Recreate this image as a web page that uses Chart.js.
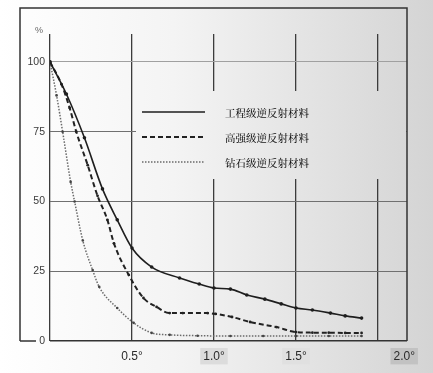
<!DOCTYPE html>
<html><head><meta charset="utf-8">
<script src="https://cdn.jsdelivr.net/npm/chart.js@4/dist/chart.umd.min.js"></script>
<style>html,body{margin:0;padding:0;background:#fff}#wrap{width:433px;height:373px}</style>
</head><body><div id="wrap"><canvas id="c" width="433" height="373"></canvas></div>
<script>
// ---- data ----
const seriesNames = ['工程级逆反射材料', '高强级逆反射材料', '钻石级逆反射材料'];
const engX = [0, 0.10, 0.21, 0.32, 0.41, 0.50, 0.62, 0.79, 0.91, 1.00, 1.10, 1.20, 1.31, 1.41, 1.50, 1.60, 1.71, 1.80, 1.90];
const engY = [100, 88.5, 72.8, 54.5, 43.4, 33.3, 26.5, 22.6, 20.4, 19.0, 18.6, 16.5, 15.0, 13.3, 11.8, 11.1, 10.0, 9.0, 8.2];
const hiX = [0, 0.07, 0.12, 0.16, 0.23, 0.29, 0.35, 0.39, 0.48, 0.57, 0.65, 0.73, 0.81, 0.96, 1.01, 1.11, 1.22, 1.38, 1.50, 1.60, 1.70, 1.80, 1.90];
const hiY = [100, 92, 83.5, 75, 63, 52, 43.4, 35, 23.7, 15.4, 12.2, 10, 10, 10, 9.7, 8.6, 6.8, 5, 3.2, 3.0, 3.0, 2.9, 2.9];
const diaX = [0, 0.04, 0.077, 0.126, 0.15, 0.20, 0.26, 0.30, 0.41, 0.51, 0.62, 0.73, 0.90, 1.10, 1.30, 1.50, 1.70, 1.90];
const diaY = [100, 88, 75, 57, 50, 36, 25.4, 19.4, 11.8, 6.5, 2.9, 2.2, 1.9, 1.8, 1.8, 1.8, 1.8, 1.8];
const yTicks = [0, 25, 50, 75, 100];
const yTickLabels = ['0', '25', '50', '75', '100'];
const xGridValues = [0, 0.5, 1.0, 1.5, 2.0];
const xLabelValues = [0.5, 1.0, 1.5, 2.16];
const xLabels = ['0.5°', '1.0°', '1.5°', '2.0°'];
const xLabelBg = ['rgba(0,0,0,0)', '#dcdcdc', '#e0e0e0', '#c2c2c2'];

const pts = (xs, ys) => xs.map((x, i) => ({x: x, y: ys[i]}));
const xAll = xGridValues.concat([2.16]);

function paperGradient(c) {
  const g = c.createLinearGradient(0, 0, 433, 0);
  g.addColorStop(0, '#ffffff'); g.addColorStop(0.4, '#f4f4f4'); g.addColorStop(1, '#d4d4d4');
  return g;
}

const bgPlugin = {
  id: 'bg',
  beforeDraw(chart) {
    const c = chart.ctx;
    c.save(); c.fillStyle = paperGradient(c); c.fillRect(0, 0, 433, 373); c.restore();
  },
  beforeDatasetsDraw(chart) {
    const c = chart.ctx;
    // legend area hides the grid
    c.save(); c.fillStyle = paperGradient(c); c.fillRect(136, 91, 270, 88); c.restore();
  },
  afterDraw(chart) {
    const c = chart.ctx;
    const a = chart.chartArea;
    c.save();
    // frame
    c.strokeStyle = '#333'; c.lineWidth = 1.5;
    c.beginPath();
    c.moveTo(20, 341); c.lineTo(20, 8); c.lineTo(a.right, 8); c.lineTo(a.right, 341);
    c.moveTo(20, 341); c.lineTo(36, 341);
    c.stroke();
    // % unit
    c.fillStyle = '#666'; c.font = '9px "Liberation Sans", Arial, sans-serif';
    c.textAlign = 'center'; c.textBaseline = 'middle';
    c.fillText('%', 39, 31);
    // legend
    const rowsY = [112, 137, 162];
    chart.data.datasets.forEach((ds, i) => {
      const y = rowsY[i];
      c.strokeStyle = ds.borderColor; c.lineWidth = ds.borderWidth;
      c.setLineDash(ds.borderDash || []);
      c.beginPath(); c.moveTo(142, y); c.lineTo(205, y); c.stroke();
      c.setLineDash([]);
      c.fillStyle = '#151515';
      c.font = '500 10.5px "Noto Serif CJK SC", "Noto Sans CJK SC", sans-serif';
      c.textAlign = 'left';
      c.fillText(ds.label, 225, y + 1);
    });
    c.restore();
  }
};

new Chart(document.getElementById('c'), {
  type: 'line',
  data: {
    datasets: [
      { label: seriesNames[0], data: pts(engX, engY), borderColor: '#1e1e1e', backgroundColor: '#1e1e1e',
        borderWidth: 1.6, pointRadius: 1.8, pointBorderWidth: 0, cubicInterpolationMode: 'monotone' },
      { label: seriesNames[1], data: pts(hiX, hiY), borderColor: '#222', backgroundColor: '#222',
        borderWidth: 2, borderDash: [5, 3], pointRadius: 1.4, pointBorderWidth: 0, cubicInterpolationMode: 'monotone' },
      { label: seriesNames[2], data: pts(diaX, diaY), borderColor: '#6a6a6a', backgroundColor: '#444',
        borderWidth: 1.5, borderDash: [1.5, 1.5], pointRadius: 1.3, pointBorderWidth: 0, cubicInterpolationMode: 'monotone' }
    ]
  },
  options: {
    responsive: false, animation: false, devicePixelRatio: 1,
    layout: { padding: { top: 34, right: 26, left: 0, bottom: 0 } },
    plugins: { legend: { display: false }, tooltip: { enabled: false } },
    scales: {
      x: {
        type: 'linear', min: 0, max: 2.177,
        afterFit(s) { s.height = 32; },
        afterBuildTicks(s) { s.ticks = xAll.map(v => ({ value: v })); },
        border: { display: false },
        grid: {
          drawTicks: false,
          color: ctx => (ctx.tick && ctx.tick.value > 2.05) ? 'rgba(0,0,0,0)' : '#3c3c3c',
          lineWidth: 1.3
        },
        ticks: {
          autoSkip: false, maxRotation: 0, padding: 8,
          color: '#2a2a2a', font: { family: '"Liberation Sans", Arial, sans-serif', size: 12 },
          callback: (v) => { const k = xLabelValues.indexOf(v); return k >= 0 ? xLabels[k] : ''; },
          showLabelBackdrop: ctx => xLabelValues.indexOf(ctx.tick && ctx.tick.value) > 0,
          backdropColor: ctx => { const k = xLabelValues.indexOf(ctx.tick && ctx.tick.value); return k >= 0 ? xLabelBg[k] : 'rgba(0,0,0,0)'; },
          backdropPadding: { x: 3, y: 1 }
        }
      },
      y: {
        min: 0, max: 110,
        afterFit(s) { s.width = 50; },
        afterBuildTicks(s) { s.ticks = yTicks.map(v => ({ value: v })); },
        border: { display: false },
        grid: {
          drawTicks: false,
          color: ctx => { const v = ctx.tick && ctx.tick.value; return v === 100 ? '#a0a0a0' : (v === 0 ? '#333' : '#707070'); },
          lineWidth: ctx => (ctx.tick && ctx.tick.value === 0) ? 1.5 : 1
        },
        ticks: {
          padding: 5, color: '#3a3a3a',
          font: { family: '"Liberation Sans", Arial, sans-serif', size: 10.5 },
          callback: (v) => { const k = yTicks.indexOf(v); return k >= 0 ? yTickLabels[k] : ''; }
        }
      }
    }
  },
  plugins: [bgPlugin]
});
</script></body></html>
